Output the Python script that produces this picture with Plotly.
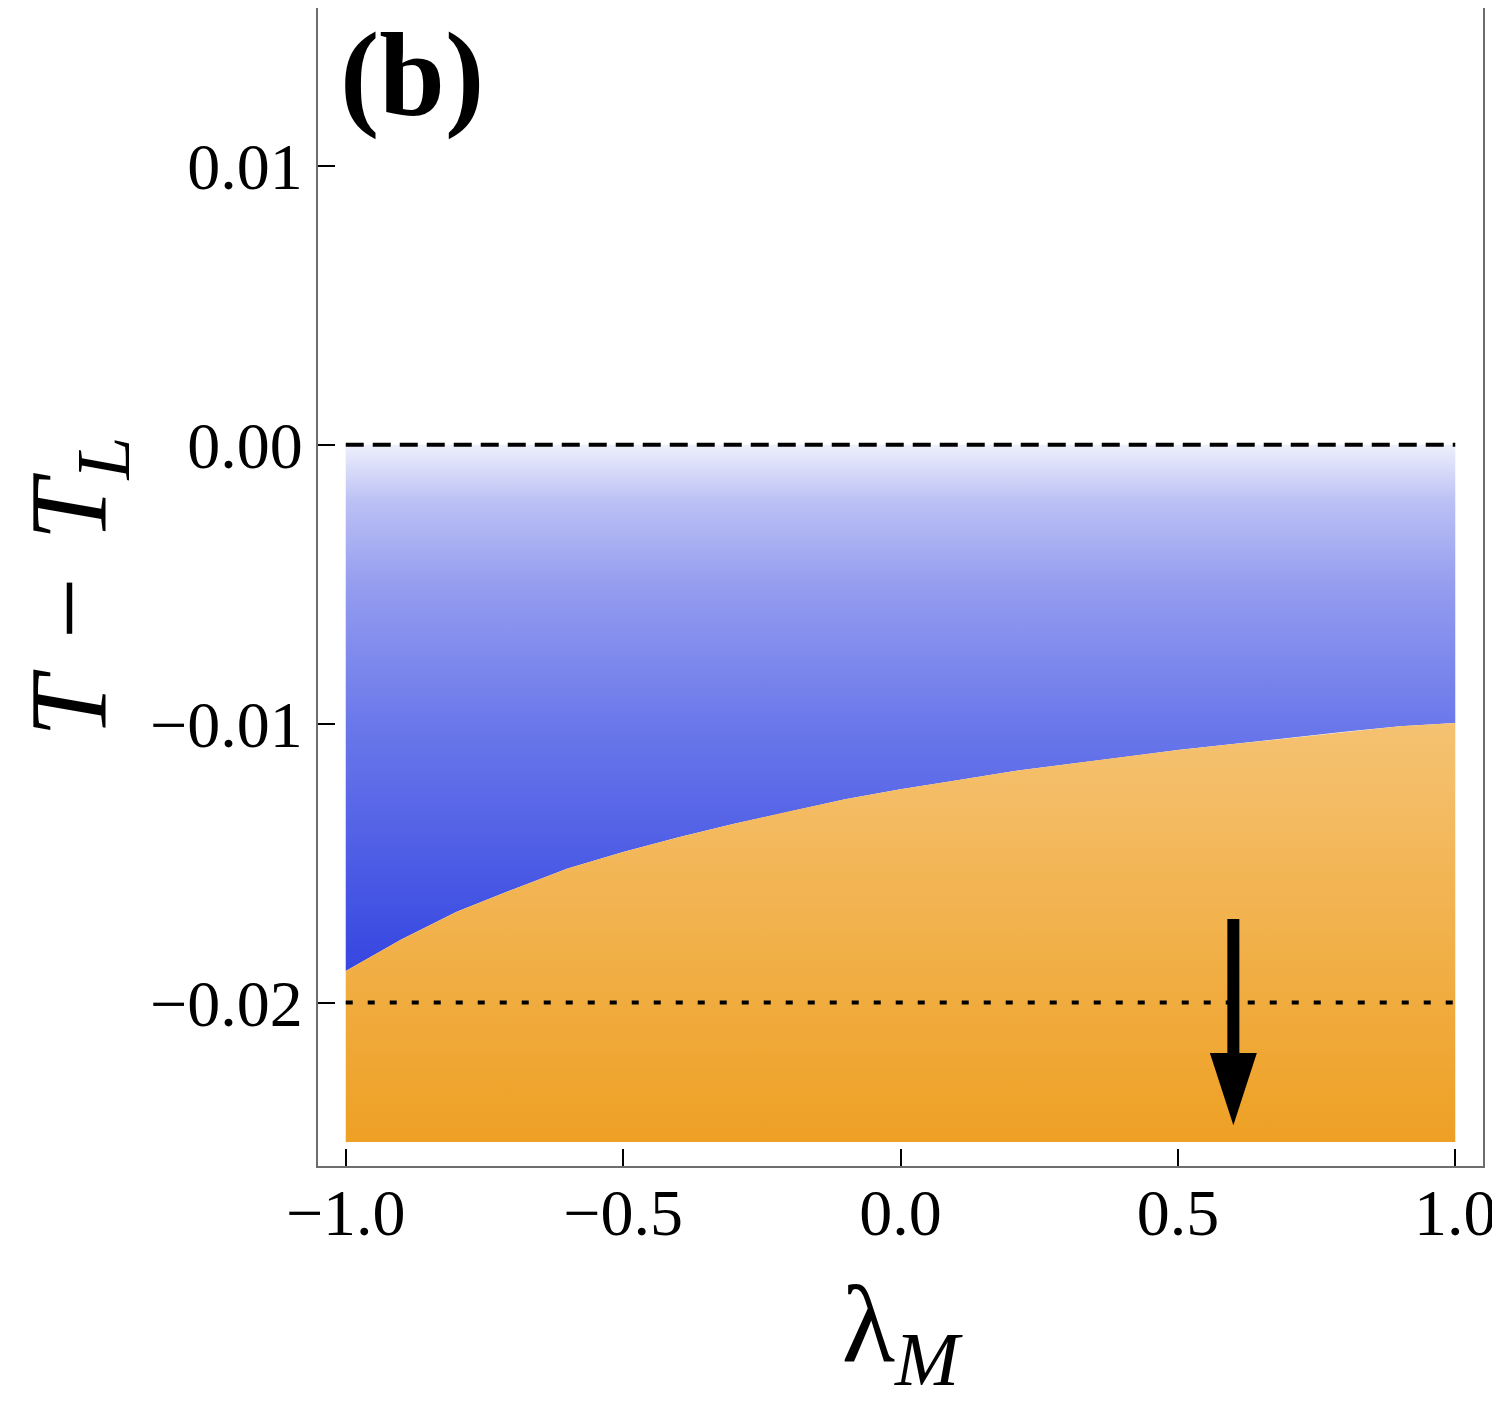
import plotly.graph_objects as go

# boundary between the two phases
lam = [-1.0, -0.9, -0.8, -0.7, -0.6, -0.5, -0.4, -0.3, -0.2, -0.1, 0.0,
       0.1, 0.2, 0.3, 0.4, 0.5, 0.6, 0.7, 0.8, 0.9, 1.0]
t_boundary = [-0.01887, -0.01774, -0.01674, -0.01595, -0.01519, -0.01460,
              -0.01407, -0.01359, -0.01314, -0.01271, -0.01235, -0.01204,
              -0.01171, -0.01145, -0.01120, -0.01094, -0.01073, -0.01051,
              -0.01029, -0.01009, -0.00997]
t_top = 0.0
t_bottom = -0.025
t_dotted = -0.02

arrow_lam = [0.6, 0.6]
arrow_t = [-0.0170, -0.0244]

x_ticks = [-1.0, -0.5, 0.0, 0.5, 1.0]
x_ticktext = ["\u22121.0", "\u22120.5", "0.0", "0.5", "1.0"]
y_ticks = [0.01, 0.0, -0.01, -0.02]
y_ticktext = ["0.01", "0.00", "\u22120.01", "\u22120.02"]

serif = "Liberation Serif"

fig = go.Figure()

# blue region (above the boundary, below T = T_L)
fig.add_trace(go.Scatter(
    x=lam + lam[::-1],
    y=[t_top] * len(lam) + t_boundary[::-1],
    mode='lines', line=dict(width=0), fill='toself',
    fillgradient=dict(
        type='vertical', start=-0.019, stop=0.0,
        colorscale=[[0.0, '#3545e0'], [0.21, '#4c5ce5'], [0.474, '#6b78ea'],
                    [0.737, '#959def'], [0.895, '#bcc1f4'], [1.0, '#eef0fc']]),
    hoverinfo='skip', showlegend=False))

# orange region (below the boundary)
fig.add_trace(go.Scatter(
    x=lam + lam[::-1],
    y=t_boundary + [t_bottom] * len(lam),
    mode='lines', line=dict(width=0), fill='toself',
    fillgradient=dict(
        type='vertical', start=-0.025, stop=-0.00997,
        colorscale=[[0.0, '#eea024'], [1.0, '#f5c272']]),
    hoverinfo='skip', showlegend=False))

# reference lines
fig.add_trace(go.Scatter(
    x=[lam[0], lam[-1]], y=[t_top, t_top], mode='lines',
    line=dict(color='black', width=4, dash='18px,9px'),
    hoverinfo='skip', showlegend=False))
fig.add_trace(go.Scatter(
    x=[lam[0], lam[-1]], y=[t_dotted, t_dotted], mode='lines',
    line=dict(color='black', width=4, dash='7px,15px'),
    hoverinfo='skip', showlegend=False))

# arrow
fig.add_trace(go.Scatter(
    x=arrow_lam, y=arrow_t, mode='lines+markers',
    line=dict(color='black', width=12),
    marker=dict(symbol='arrow', angleref='previous', size=[0, 76],
                color='black', opacity=1, line=dict(width=0)),
    hoverinfo='skip', showlegend=False))

fig.add_annotation(
    text="<b>(b)</b>", xref='paper', yref='paper', x=0.018, y=1.0,
    xanchor='left', yanchor='top', showarrow=False, borderpad=0,
    font=dict(family=serif, size=118, color='black'))

axis_common = dict(
    showline=True, mirror=True, linecolor='#6d6d6d', linewidth=2,
    ticks='inside', ticklen=17, tickwidth=2, tickcolor='black',
    showgrid=False, zeroline=False, automargin=False,
    tickfont=dict(family=serif, size=66, color='black'))

fig.update_xaxes(
    range=[-1.05, 1.05], tickvals=x_ticks, ticktext=x_ticktext,
    ticklabelstandoff=-12,
    title=dict(text="\u03bb<sub><i>M</i></sub>", standoff=53,
               font=dict(family=serif, size=110, color='black')),
    **axis_common)
fig.update_yaxes(
    range=[-0.02586, 0.015665], tickvals=y_ticks, ticktext=y_ticktext,
    ticklabelstandoff=0,
    title=dict(text="<i>T</i>\u2004\u2212\u2004<i>T</i><sub><i>L</i></sub>",
               standoff=67,
               font=dict(family=serif, size=110, color='black')),
    **axis_common)

# the page puts the figure 8 px in from the window corner
fig.update_layout(
    width=1492, height=1394, autosize=False,
    margin=dict(l=310, r=17, t=0, b=236),
    plot_bgcolor='white', paper_bgcolor='white')

fig.write_html("out.html")
